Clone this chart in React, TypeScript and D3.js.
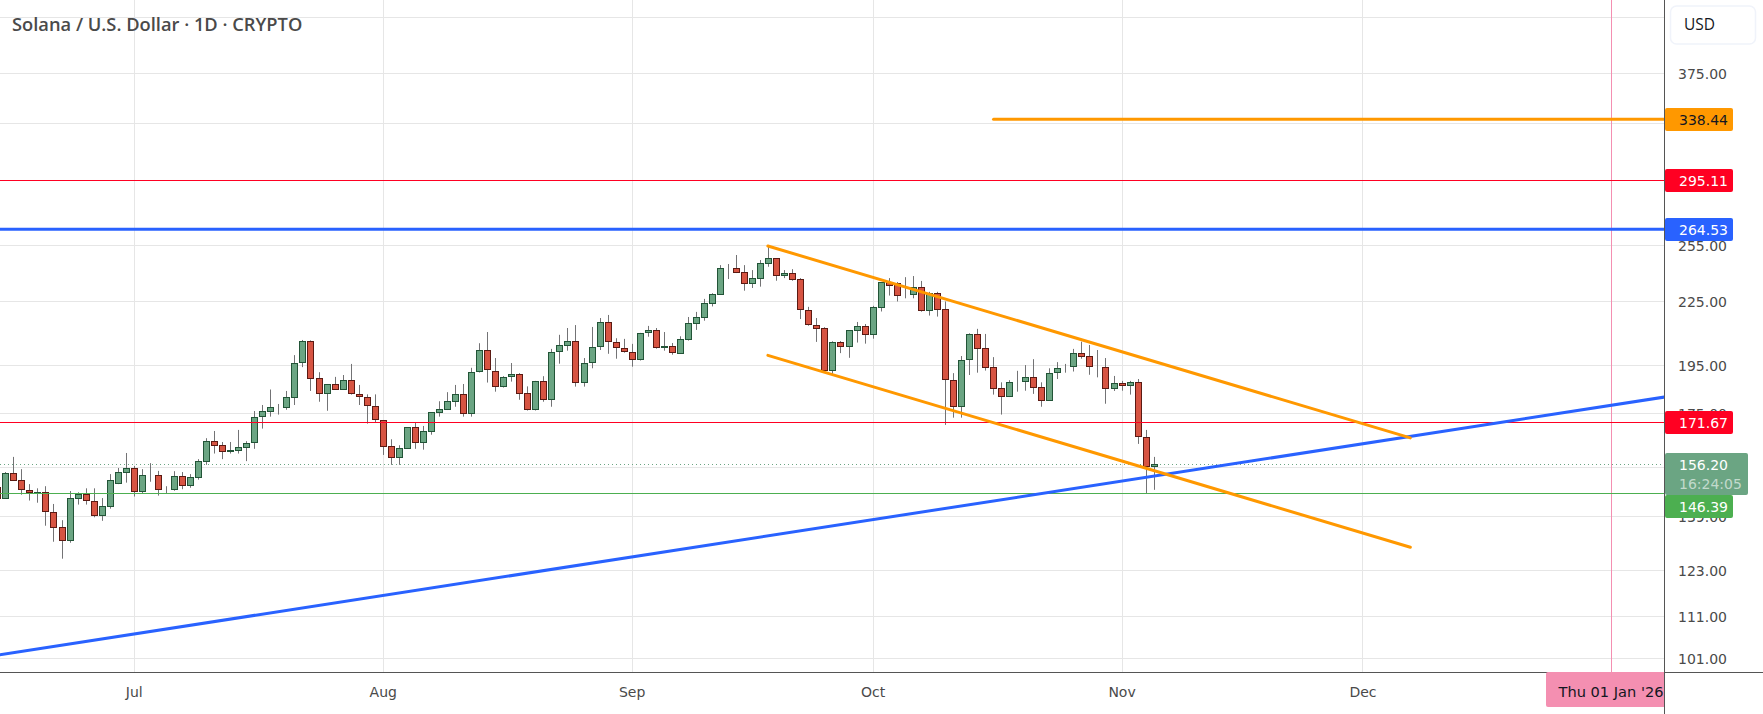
import React from "react";
import * as d3 from "d3";

const FIRST_DAY = -17; // days relative to 1 Jul 2025
const opens = [
  148.6,144.6,153.1,150.7,147.5,146.2,146.9,140.3,135.6,131.6,144.6,146,143.8,139.1,142,149.4,153.3,154.8,146.9,152.3,152.4,147.7,147.5,152,148.8,151.6,157.1,
  164.4,163,160.7,161,162.1,163.9,173.5,175.7,177.5,177.1,181.3,195.9,205.8,189.4,183,186.9,184.6,188.6,183,181.5,177.9,172.4,162.6,158.5,161.8,169.7,163.9,168,
  175.3,176.5,179.7,182.7,175,192,201.7,192.4,185.9,189.8,191.1,183.1,176.3,188.2,180.3,200.8,203.8,205.8,187.3,195.9,203,214.7,205.3,202.6,200.8,197.2,
  209.5,210.9,202.6,203.5,200.1,206.5,214.1,217,223.9,228.5,242.4,242.3,240.2,234.2,236.8,244.9,247.8,238.3,239.7,236.5,220.6,213.3,211.9,192.7,205.3,203.3,210.8,
  212.9,208.9,221.9,234.9,234.4,228.2,228.5,232.3,220,229.2,221.1,188.6,177.7,197.2,209.1,202.6,194.2,185.2,181.7,188,188,189.8,185.6,180.1,191.6,193.9,194.2,
  200.3,199,194.2,194.2,184.8,187.3,186.3,187.7,165.9,155.1,
];
const closes = [
  144.6,153.2,150.6,147.5,146.3,146.9,140.3,135.5,131.6,144.7,146,143.8,139.1,142.2,150.7,153.4,154.8,146.9,152.4,152.5,147.5,147.5,152,148.8,151.7,157.2,164.4,
  162.8,160.7,161.2,162.3,164,173.5,175.9,177.4,177.3,181.5,195.9,205.8,189.2,183,186.9,184.6,188.6,183,181.5,177.9,172.4,162.5,158.5,161.9,169.7,163.9,168.2,175.5,
  176.7,179.9,182.7,175,192,201.7,192.9,185.9,189.8,191.1,183,176.3,188.2,180.3,200.8,204,205.8,187.3,195.9,203,214.7,205.3,202.6,200.8,197.2,209.5,
  210.9,202.6,203.5,200.3,206.7,214.2,217.2,224.1,228.7,242.3,242.4,240,234.2,237,245.1,247.8,238.3,239.7,236.3,220.6,213.6,211.7,192.6,205.3,203.3,210.9,212.9,
  208.9,222.1,234.9,232.8,228,228.9,232.3,220,229.2,220.9,188.6,177.7,197.2,209.1,202.4,194,185,181.7,187.7,188.3,189.8,185.4,180.1,191.6,193.7,194.2,200.3,
  198.8,194.2,193.9,184.8,187.3,186.3,187.7,165.9,155.4,156.2,
];
const highs = [
  149.7,153.5,158.8,154.5,149.4,148,148.7,142.9,137.8,147.1,146.7,148,148,144.8,152.8,154.9,160.2,155.6,154.5,156.6,153.9,148.7,153.8,153.5,152.8,158,165.6,
  168.3,164.2,164.2,168.7,164.5,176,178.4,184.7,178.8,184.1,199.5,206.4,206.2,192,187,190,190.8,195.6,186.6,182.7,182.7,172.5,165.2,163,169.8,171.5,170.2,175.6,
  179.9,183.6,186.6,187,193.9,204.9,210.1,198.2,190.3,196,191.6,186,188.3,190.3,202.3,208.8,212,213.4,198.2,212.5,216.8,218.3,207.2,206.9,204.6,209.7,
  213,212,210.1,205,208.1,217.3,219.8,226.3,229.2,244.1,244.7,249.7,244.1,241.4,246.9,254.9,248,241.4,241.9,237.1,222.3,216.8,212.4,205.8,205.9,211,214.9,
  213.9,222.8,235,237.1,235,237.6,238.2,235.6,229.9,229.9,225,191.6,199.1,209.5,211.6,209.2,198.6,187.7,188.6,192.6,195.1,197.7,187.7,193.7,196.4,195.6,202.3,
  205.6,204.1,201.8,198.2,190.4,188.3,188.3,189.1,168.7,158.8,
];
const lows = [
  144.5,144.6,150.5,145.9,144,143.3,136.1,131.3,126.4,131,142.7,142.7,138.7,137.6,141.4,149.4,149.9,145.3,146.3,150.2,145.6,146.3,147.2,147.7,148.2,150.9,156,
  160,158,160,160,157.3,161.7,169.2,173.8,174.6,176.5,178.4,194.2,184.1,179.7,176.1,184.5,184.5,182.6,178.4,171.1,171.5,159.5,156,156,161.7,161.7,161.4,166.9,
  173.8,176.4,177.7,173.8,173.8,191.9,187.6,183.8,185.5,188,180.5,176.2,176.2,179.7,177.7,195.7,201.5,185.9,185.9,193.7,201.8,200.1,197.9,200.6,194.4,197.1,
  207.9,202.4,201.5,199.7,200,206.1,211.1,215.5,222.5,228.3,236.6,239.8,230.5,231.9,232.6,243.2,235.7,237.1,235.7,216.3,213.1,205.5,192.4,191.3,200.4,198.3,205.2,
  204.7,207,220,228,225,226.6,226.6,219.9,218,217.5,170.6,173.4,173.4,190.8,191.8,192.7,182.6,174.6,181.6,183.8,184.2,182.9,177.7,180,189.1,191.8,192.3,
  197.9,190.9,189.8,178.9,184.1,184.2,182.6,163.5,146.3,147.5,
];

const gridPrices = [425, 375, 335, 295, 255, 225, 195, 175, 155, 139, 123, 111, 101];
const labelledPrices = [375, 255, 225, 195, 175, 139, 123, 111, 101];
const monthNames = ["Jul", "Aug", "Sep", "Oct", "Nov", "Dec"];
const monthDays = [0, 31, 62, 92, 123, 153];
const crosshairDay = 184;
const crosshairLabel = "Thu 01 Jan '26";
const lastPrice = 156.2;
const countdown = "16:24:05";

const blueTrendDays = [-16.75, 190.75];
const blueTrendPrices = [101.9, 181.7];
const channelDays = [78.9, 158.9];
const channelUpper = [254.8, 165.7];
const channelLower = [199.4, 129.7];
const orangeLevelDays = [107, 190.75];
const orangeLevel = 338.44;
const redLevels = [295.11, 171.67];
const blueLevel = 264.53;
const greenLevel = 146.39;

const W = 1763, H = 714, AX = 1664, AY = 672;
const FONT = "'DejaVu Sans', sans-serif";
const UP = "#6ba583", DOWN = "#d75442", UP_B = "#225437", DOWN_B = "#5b1a13", WICK = "#737375";
const ORANGE = "#ff9800", RED = "#ff0022", BLUE = "#2962ff", GREEN = "#4caf50", PINK = "#f48fb1";

const x = d3.scaleLinear().domain([0, 184]).range([134.3, 1611.9]);
const y = d3.scaleLog().domain([195, 375]).range([365.3, 73.6]);
const px = (v: number) => Math.floor(v) + 0.5;

function seg(days: number[], prices: number[], color: string, w: number) {
  const path = d3.line<[number, number]>().x((p) => x(p[0])).y((p) => y(p[1]))([
    [days[0], prices[0]],
    [days[1], prices[1]],
  ]) as string;
  return <path d={path} stroke={color} strokeWidth={w} fill="none" strokeLinecap="round" />;
}

function Tag({ price, top, h = 23, color, text, tw = 68, fg = "#fff" }: any) {
  return (
    <g>
      <rect x={AX + 1} y={top} width={tw} height={h} rx={2} fill={color} />
      <text x={AX + 15} y={top + 16.5} fill={fg} fontSize={14} fontFamily={FONT} fontWeight={500}>{text ?? price.toFixed(2)}</text>
    </g>
  );
}

export default function App() {
  const candles = opens.map((o, i) => {
    const up = closes[i] >= o;
    const cx = px(x(FIRST_DAY + i));
    const top = Math.round(y(Math.max(o, closes[i])));
    const bot = Math.round(y(Math.min(o, closes[i])));
    const yTop = top + 0.5;
    const yBot = Math.max(bot - 0.5, yTop);
    return (
      <g key={i}>
        <line x1={cx} x2={cx} y1={y(highs[i])} y2={y(lows[i])} stroke={WICK} strokeWidth={1} />
        <rect x={cx - 3} y={yTop} width={6} height={yBot - yTop} fill={up ? UP : DOWN} stroke={up ? UP_B : DOWN_B} strokeWidth={1} />
      </g>
    );
  });
  return (
    <svg width={W} height={H} viewBox={`0 0 ${W} ${H}`} style={{ position: "absolute", left: 0, top: 0, display: "block", background: "#fff" }}>
      <defs>
        <clipPath id="pane"><rect x={0} y={0} width={AX} height={AY} /></clipPath>
      </defs>
      <g clipPath="url(#pane)">
        {gridPrices.map((p) => (
          <line key={p} x1={0} x2={AX} y1={px(y(p))} y2={px(y(p))} stroke="#e6e6e6" />
        ))}
        {monthDays.map((d) => (
          <line key={d} x1={px(x(d))} x2={px(x(d))} y1={0} y2={AY} stroke="#e6e6e6" />
        ))}
        <line x1={0} x2={AX} y1={px(y(lastPrice))} y2={px(y(lastPrice))} stroke={UP} strokeDasharray="1 3" />
        {candles}
        <line x1={px(x(crosshairDay))} x2={px(x(crosshairDay))} y1={0} y2={AY} stroke={PINK} />
        {redLevels.map((p) => (
          <line key={p} x1={0} x2={AX} y1={px(y(p))} y2={px(y(p))} stroke={RED} />
        ))}
        <line x1={0} x2={AX} y1={px(y(greenLevel))} y2={px(y(greenLevel))} stroke={GREEN} />
        <line x1={0} x2={AX} y1={y(blueLevel)} y2={y(blueLevel)} stroke={BLUE} strokeWidth={3} />
        {seg(orangeLevelDays, [orangeLevel, orangeLevel], ORANGE, 3)}
        {seg(blueTrendDays, blueTrendPrices, BLUE, 3)}
        {seg(channelDays, channelUpper, ORANGE, 3)}
        {seg(channelDays, channelLower, ORANGE, 3)}
      </g>

      <text x={12} y={30.5} fill="#4a4a4a" fontSize={18.3} fontWeight={600} fontFamily="'Open Sans', sans-serif">Solana / U.S. Dollar · 1D · CRYPTO</text>

      <line x1={px(AX)} x2={px(AX)} y1={0} y2={H} stroke="#555" />
      <line x1={0} x2={W} y1={px(AY)} y2={px(AY)} stroke="#555" />

      {labelledPrices.map((p) => (
        <text key={p} x={AX + 14} y={y(p) + 5.5} fill="#4a4a4a" fontSize={14} fontFamily={FONT}>{p.toFixed(2)}</text>
      ))}
      {monthDays.map((d, i) => (
        <text key={d} x={x(d)} y={697} textAnchor="middle" fill="#4a4a4a" fontSize={14} fontFamily={FONT}>{monthNames[i]}</text>
      ))}

      <rect x={1670.5} y={6} width={85} height={38} rx={6} fill="#fff" stroke="#f0f3fa" strokeWidth={1.5} />
      <text x={1684} y={30} fill="#131722" fontSize={15.5} fontFamily="'Open Sans', sans-serif">USD</text>

      <Tag price={orangeLevel} top={108} color={ORANGE} fg="#131722" />
      <Tag price={redLevels[0]} top={169} color={RED} />
      <Tag price={blueLevel} top={218} color={BLUE} />
      <Tag price={redLevels[1]} top={411} color={RED} />
      <rect x={AX + 1} y={453} width={83} height={42} rx={2} fill={UP} />
      <text x={AX + 15} y={470} fill="#fff" fontSize={14} fontWeight={500} fontFamily={FONT}>{lastPrice.toFixed(2)}</text>
      <text x={AX + 15} y={489} fill="#fff" fillOpacity={0.6} fontSize={14} fontFamily={FONT}>{countdown}</text>
      <Tag price={greenLevel} top={495} color={GREEN} />

      <clipPath id="pinkClip"><rect x={1546} y={AY} width={118} height={36} /></clipPath>
      <g clipPath="url(#pinkClip)">
        <rect x={1546} y={AY} width={130} height={35} rx={2} fill={PINK} />
        <text x={1558.5} y={697} fill="#131722" fontSize={14.6} fontFamily={FONT}>{crosshairLabel}</text>
      </g>
    </svg>
  );
}
